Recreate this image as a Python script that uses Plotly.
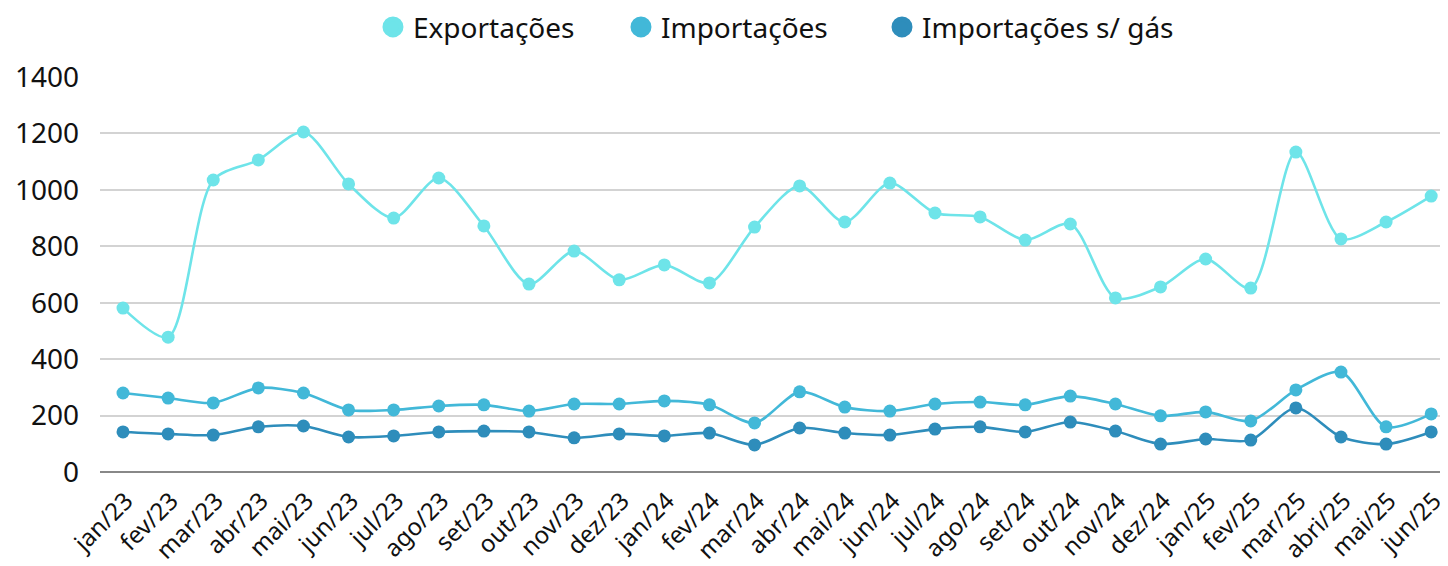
import plotly.graph_objects as go

months = ["jan/23","fev/23","mar/23","abr/23","mai/23","jun/23","jul/23","ago/23","set/23","out/23",
          "nov/23","dez/23","jan/24","fev/24","mar/24","abr/24","mai/24","jun/24","jul/24","ago/24",
          "set/24","out/24","nov/24","dez/24","jan/25","fev/25","mar/25","abri/25","mai/25","jun/25"]

exportacoes = [581, 478, 1035, 1106, 1205, 1021, 900, 1042, 872, 666,
               783, 681, 734, 670, 868, 1014, 886, 1024, 918, 904,
               822, 879, 617, 656, 755, 652, 1134, 826, 886, 978]

importacoes = [280, 262, 245, 298, 280, 220, 220, 234, 238, 216,
               241, 241, 252, 238, 174, 284, 230, 216, 241, 248,
               238, 269, 241, 199, 213, 181, 291, 354, 160, 206]

importacoes_sem_gas = [142, 135, 131, 160, 163, 124, 128, 142, 145, 142,
                       121, 135, 128, 138, 96, 156, 138, 131, 152, 160,
                       142, 177, 145, 99, 117, 113, 227, 124, 99, 142]

series = [
    ("Exportações", exportacoes, "#6ee4e9"),
    ("Importações", importacoes, "#42b8d8"),
    ("Importações s/ gás", importacoes_sem_gas, "#2e8dbb"),
]

FONT = "Noto Sans"
legend_ids = ["legend", "legend2", "legend3"]
legend_x = [0.2013, 0.3842, 0.5767]

fig = go.Figure()
for name, vals, col in series:
    fig.add_trace(go.Scatter(
        x=months, y=vals, name=name, mode="lines+markers", showlegend=False,
        line=dict(color=col, width=2.6, shape="spline", smoothing=0.8),
        marker=dict(color=col, size=13),
    ))
# legend entries (circle markers only), one legend box per entry
for (name, vals, col), lid in zip(series, legend_ids):
    fig.add_trace(go.Scatter(
        x=[None], y=[None], name=name, mode="markers", showlegend=True, legend=lid,
        marker=dict(color=col, size=16, line=dict(color=col, width=5)),
    ))

legend_style = dict(orientation="h", xanchor="left", y=0.966, yanchor="middle", yref="container",
                    font=dict(family=FONT, size=28, color="#111"), itemsizing="trace",
                    itemwidth=30, bgcolor="rgba(0,0,0,0)")

fig.update_layout(
    width=1448, height=566,
    margin=dict(l=92, r=0, t=69, b=102, autoexpand=False),
    paper_bgcolor="white", plot_bgcolor="white",
    font=dict(family=FONT, size=26, color="#111"),
    legend=dict(x=legend_x[0], **legend_style),
    legend2=dict(x=legend_x[1], **legend_style),
    legend3=dict(x=legend_x[2], **legend_style),
    showlegend=True,
)
fig.update_xaxes(
    type="category", range=[-0.51, 29.55], tickangle=-45, automargin=False,
    showgrid=False, showline=False, ticks="",
    tickfont=dict(family=FONT, size=24, color="#111"),
    ticklabelstandoff=9, ticklabelshift=3,
)
fig.update_yaxes(
    range=[0, 1400], dtick=200, showgrid=True, gridcolor="#d3d3d3", gridwidth=1.5,
    zeroline=True, zerolinecolor="#888", zerolinewidth=1.5, automargin=False,
    tickfont=dict(family=FONT, size=28, color="#111"), ticklabelstandoff=20,
)

fig.write_html("out.html")
